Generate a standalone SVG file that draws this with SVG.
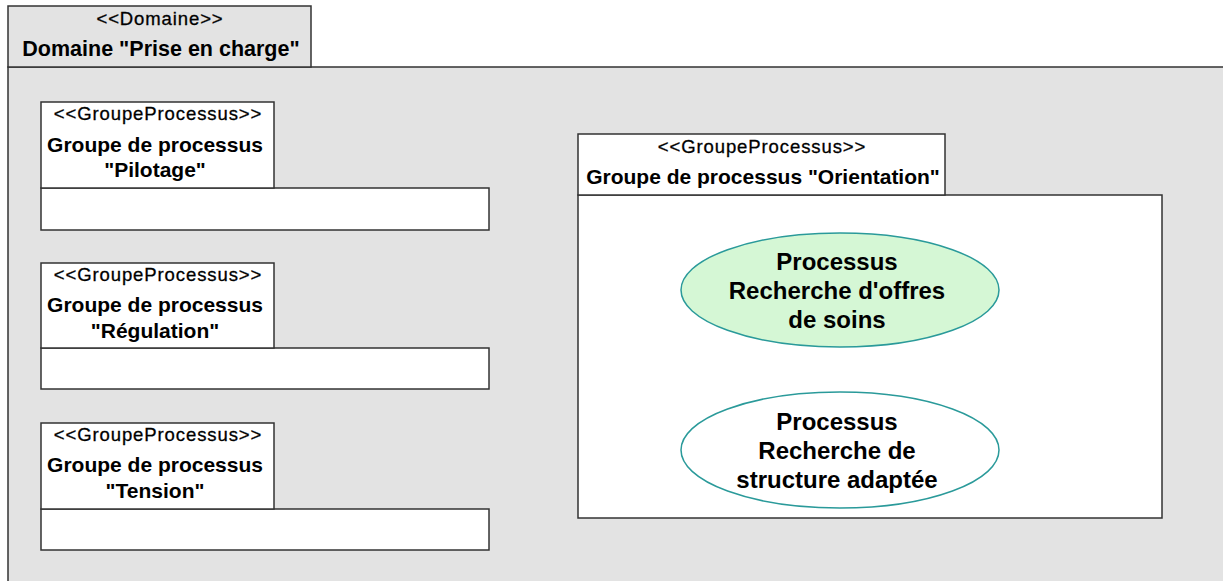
<svg xmlns="http://www.w3.org/2000/svg" width="1223" height="581" viewBox="0 0 1223 581">
  <style>
    .pkg { stroke: #333; stroke-width: 1.5; }
    .outer { fill: #e3e3e3; }
    .inner { fill: #ffffff; }
    .stereo { font-family: "Liberation Sans", Arial, sans-serif; font-size: 18.5px; letter-spacing: 0.9px; fill: #000; stroke: #000; stroke-width: 0.3; text-anchor: middle; }
    .name { font-family: "Liberation Sans", Arial, sans-serif; font-size: 21px; font-weight: bold; fill: #000; text-anchor: middle; }
    .proc { font-family: "Liberation Sans", Arial, sans-serif; font-size: 24px; font-weight: bold; fill: #000; text-anchor: middle; }
    .uc { stroke: #2a9a9a; stroke-width: 1.5; }
  </style>
  <rect width="1223" height="581" fill="#ffffff"/>

  <!-- Domain package -->
  <g id="domaine-prise-en-charge">
    <rect class="pkg outer" x="8" y="67" width="1230" height="530"/>
    <rect class="pkg outer" x="8" y="6" width="303" height="61"/>
    <text class="stereo" x="160" y="25">&lt;&lt;Domaine&gt;&gt;</text>
    <text class="name" x="161" y="56" style="font-size:21.5px">Domaine "Prise en charge"</text>
  </g>

  <!-- Process group: Pilotage -->
  <g id="groupe-pilotage">
    <rect class="pkg inner" x="41" y="188" width="448" height="42"/>
    <rect class="pkg inner" x="41" y="102" width="233" height="86"/>
    <text class="stereo" x="158" y="120">&lt;&lt;GroupeProcessus&gt;&gt;</text>
    <text class="name" x="155" y="152">Groupe de processus</text>
    <text class="name" x="155" y="177">"Pilotage"</text>
  </g>

  <!-- Process group: Régulation -->
  <g id="groupe-regulation">
    <rect class="pkg inner" x="41" y="348" width="448" height="41"/>
    <rect class="pkg inner" x="41" y="263" width="233" height="85"/>
    <text class="stereo" x="158" y="281">&lt;&lt;GroupeProcessus&gt;&gt;</text>
    <text class="name" x="155" y="312">Groupe de processus</text>
    <text class="name" x="155" y="338">"Régulation"</text>
  </g>

  <!-- Process group: Tension -->
  <g id="groupe-tension">
    <rect class="pkg inner" x="41" y="509" width="448" height="41"/>
    <rect class="pkg inner" x="41" y="423" width="233" height="86"/>
    <text class="stereo" x="158" y="441">&lt;&lt;GroupeProcessus&gt;&gt;</text>
    <text class="name" x="155" y="472">Groupe de processus</text>
    <text class="name" x="155" y="498">"Tension"</text>
  </g>

  <!-- Process group: Orientation -->
  <g id="groupe-orientation">
    <rect class="pkg inner" x="578" y="195" width="584" height="323"/>
    <rect class="pkg inner" x="578" y="134" width="367" height="61"/>
    <text class="stereo" x="762" y="153">&lt;&lt;GroupeProcessus&gt;&gt;</text>
    <text class="name" x="763" y="184">Groupe de processus "Orientation"</text>
  </g>

  <g id="processus-recherche-offres">
    <ellipse class="uc" cx="840" cy="290" rx="159" ry="57" fill="#d5f7d5"/>
    <text class="proc" x="837" y="270">Processus</text>
    <text class="proc" x="837" y="299">Recherche d'offres</text>
    <text class="proc" x="837" y="328">de soins</text>
  </g>

  <g id="processus-recherche-structure">
    <ellipse class="uc" cx="840" cy="450" rx="159" ry="58" fill="#ffffff"/>
    <text class="proc" x="837" y="430">Processus</text>
    <text class="proc" x="837" y="459">Recherche de</text>
    <text class="proc" x="837" y="488">structure adaptée</text>
  </g>

  <g id="connecteurs"></g>
</svg>
